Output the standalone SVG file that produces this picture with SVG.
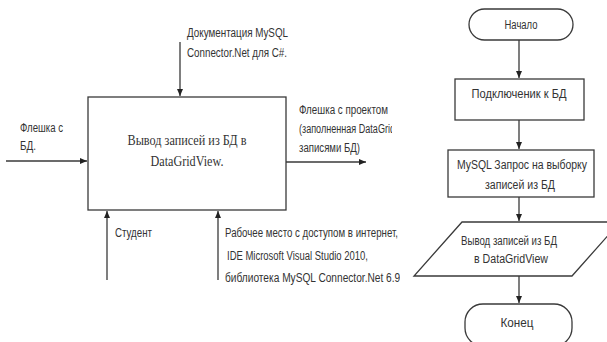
<svg xmlns="http://www.w3.org/2000/svg" width="607" height="342" viewBox="0 0 607 342">
<style>
.ln{fill:none;stroke:#3a3a3a;stroke-width:1.3}
.bx{fill:#fff;stroke:#3a3a3a;stroke-width:1.3}
.t{font-family:"Liberation Sans","DejaVu Sans",sans-serif;font-size:12px;fill:#333}
.c{text-anchor:middle}
.s{font-family:"Liberation Serif","Times New Roman",serif;font-size:15px;fill:#333;text-anchor:middle}
</style>
<defs>
<marker id="ah" markerWidth="8" markerHeight="8" refX="7" refY="4" orient="auto" markerUnits="userSpaceOnUse">
<path d="M0,1 L7,4 L0,7 Z" fill="#222"/>
</marker>
<clipPath id="clipR"><rect x="0" y="0" width="392" height="342"/></clipPath>
<clipPath id="clipB"><rect x="0" y="0" width="400" height="342"/></clipPath>
</defs>
<rect width="607" height="342" fill="#fff"/>

<g id="connectors">
<line class="ln" x1="180" y1="42" x2="180" y2="96" marker-end="url(#ah)"/>
<line class="ln" x1="6" y1="161" x2="87" y2="161" marker-end="url(#ah)"/>
<line class="ln" x1="286" y1="162" x2="366" y2="162" marker-end="url(#ah)"/>
<line class="ln" x1="107" y1="280" x2="107" y2="211" marker-end="url(#ah)"/>
<line class="ln" x1="218" y1="280" x2="218" y2="211" marker-end="url(#ah)"/>
<line class="ln" x1="519" y1="40" x2="519" y2="78" marker-end="url(#ah)"/>
<line class="ln" x1="519" y1="120" x2="519" y2="149" marker-end="url(#ah)"/>
<line class="ln" x1="519" y1="197" x2="519" y2="221" marker-end="url(#ah)"/>
<line class="ln" x1="519" y1="276" x2="519" y2="303" marker-end="url(#ah)"/>
</g>

<g id="idef0-box">
<rect class="bx" x="88" y="97" width="198" height="113"/>
<text class="s" x="187" y="145" textLength="119" lengthAdjust="spacingAndGlyphs">Вывод  записей из БД в</text>
<text class="s" x="187" y="166" textLength="73" lengthAdjust="spacingAndGlyphs">DataGridView.</text>
</g>

<g id="label-control">
<text class="t" x="187" y="37" textLength="101" lengthAdjust="spacingAndGlyphs">Документация MySQL</text>
<text class="t" x="187" y="57" textLength="100" lengthAdjust="spacingAndGlyphs">Connector.Net для C#.</text>
</g>
<g id="label-input">
<text class="t" x="20" y="132" textLength="43" lengthAdjust="spacingAndGlyphs">Флешка с</text>
<text class="t" x="20" y="150" textLength="16" lengthAdjust="spacingAndGlyphs">БД.</text>
</g>
<g id="label-output" clip-path="url(#clipR)">
<text class="t" x="299" y="114" textLength="89" lengthAdjust="spacingAndGlyphs">Флешка с проектом</text>
<text class="t" x="299" y="133" textLength="96" lengthAdjust="spacingAndGlyphs">(заполненная DataGrid</text>
<text class="t" x="299" y="152" textLength="61" lengthAdjust="spacingAndGlyphs">записями БД)</text>
</g>
<g id="label-mech1">
<text class="t" x="115" y="237" textLength="37" lengthAdjust="spacingAndGlyphs">Студент</text>
</g>
<g id="label-mech2" clip-path="url(#clipB)">
<text class="t" x="225" y="237" textLength="173" lengthAdjust="spacingAndGlyphs">Рабочее место с доступом в интернет,</text>
<text class="t" x="227" y="260" textLength="141" lengthAdjust="spacingAndGlyphs">IDE Microsoft Visual Studio 2010,</text>
<text class="t" x="225" y="282" textLength="178" lengthAdjust="spacingAndGlyphs">библиотека MySQL Connector.Net  6.9.</text>
</g>

<g id="start">
<rect class="bx" x="469" y="9" width="104" height="31" rx="15.5"/>
<text class="t c" x="521" y="29" textLength="33" lengthAdjust="spacingAndGlyphs">Начало</text>
</g>
<g id="connect">
<rect class="bx" x="455" y="79" width="129" height="41"/>
<text class="t c" x="519" y="98" textLength="95" lengthAdjust="spacingAndGlyphs">Подключеник к БД</text>
</g>
<g id="query">
<rect class="bx" x="448" y="150" width="146" height="47"/>
<text class="t c" x="522" y="169" textLength="130" lengthAdjust="spacingAndGlyphs">MySQL Запрос на выборку</text>
<text class="t c" x="520" y="189" textLength="70" lengthAdjust="spacingAndGlyphs">записей из БД</text>
</g>
<g id="output">
<polygon class="bx" points="462,222 620,222 572,276 414,276"/>
<text class="t c" x="509" y="245" textLength="96" lengthAdjust="spacingAndGlyphs">Вывод записей из БД</text>
<text class="t c" x="511" y="263" textLength="74" lengthAdjust="spacingAndGlyphs">в DataGridView</text>
</g>
<g id="end">
<rect class="bx" x="465" y="304" width="107" height="42" rx="18"/>
<text class="t c" x="517" y="327" textLength="33" lengthAdjust="spacingAndGlyphs">Конец</text>
</g>
</svg>
